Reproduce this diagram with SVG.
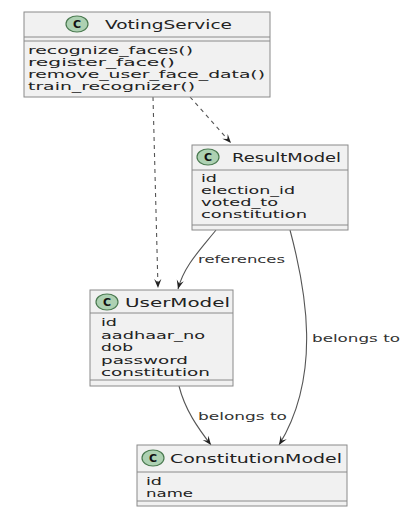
<svg xmlns="http://www.w3.org/2000/svg" width="412" height="513" viewBox="0 0 412 513">
<style>
.box{fill:#F1F1F1;stroke:#8a8a8a;stroke-width:1}
.sep{stroke:#8a8a8a;stroke-width:1}
.t{font-family:"DejaVu Sans",sans-serif;font-size:10.5px;fill:#222}
.h{font-family:"DejaVu Sans",sans-serif;font-size:11.5px;fill:#222}
.lbl{font-family:"DejaVu Sans",sans-serif;font-size:10.5px;fill:#333}
.circ{fill:#ADD1B2;stroke:#4a7a50;stroke-width:1.2}
.cl{font-family:"DejaVu Sans",sans-serif;font-size:11px;font-weight:bold;fill:#111}
.edge{fill:none;stroke:#555;stroke-width:1.1}
.dep{stroke-dasharray:4,4}
</style>
<defs>
<marker id="arr" viewBox="0 0 10 10" refX="10" refY="5" markerWidth="9" markerHeight="9" markerUnits="userSpaceOnUse" orient="auto">
<path d="M0,1 L10,5 L0,9 L4,5 Z" fill="#222"/>
</marker>
</defs>
<g id="connectors">
<path class="edge dep" d="M153,97 L158,288" marker-end="url(#arr)"/>
<path class="edge dep" d="M190,97 L231,143" marker-end="url(#arr)"/>
<path class="edge" d="M216,230 C200,250 184,266 178,289" marker-end="url(#arr)"/>
<text class="lbl" x="198" y="263" textLength="87" lengthAdjust="spacingAndGlyphs">references</text>
<path class="edge" d="M290,230 C306,290 322,375 279,445" marker-end="url(#arr)"/>
<text class="lbl" x="312" y="342" textLength="88" lengthAdjust="spacingAndGlyphs">belongs to</text>
<path class="edge" d="M179,386 C185,410 198,428 211,445" marker-end="url(#arr)"/>
<text class="lbl" x="198" y="420" textLength="89" lengthAdjust="spacingAndGlyphs">belongs to</text>
</g>
<g id="VotingService">
<rect class="box" x="24" y="12" width="246" height="85"/>
<ellipse class="circ" cx="77" cy="24" rx="11" ry="8"/>
<text class="cl" x="77" y="28" text-anchor="middle">C</text>
<text class="h" x="105" y="28.5" textLength="127" lengthAdjust="spacingAndGlyphs">VotingService</text>
<line class="sep" x1="24" y1="37" x2="270" y2="37"/>
<line class="sep" x1="24" y1="41" x2="270" y2="41"/>
<text class="t" x="28" y="54" textLength="165" lengthAdjust="spacingAndGlyphs">recognize_faces()</text>
<text class="t" x="28" y="66" textLength="147" lengthAdjust="spacingAndGlyphs">register_face()</text>
<text class="t" x="28" y="78" textLength="237" lengthAdjust="spacingAndGlyphs">remove_user_face_data()</text>
<text class="t" x="28" y="90" textLength="167" lengthAdjust="spacingAndGlyphs">train_recognizer()</text>
</g>
<g id="ResultModel">
<rect class="box" x="192" y="145" width="156" height="85"/>
<ellipse class="circ" cx="208" cy="157" rx="11" ry="8"/>
<text class="cl" x="208" y="161" text-anchor="middle">C</text>
<text class="h" x="232" y="161.5" textLength="109" lengthAdjust="spacingAndGlyphs">ResultModel</text>
<line class="sep" x1="192" y1="170" x2="348" y2="170"/>
<text class="t" x="201" y="182" textLength="16" lengthAdjust="spacingAndGlyphs">id</text>
<text class="t" x="201" y="194" textLength="94" lengthAdjust="spacingAndGlyphs">election_id</text>
<text class="t" x="201" y="206" textLength="77" lengthAdjust="spacingAndGlyphs">voted_to</text>
<text class="t" x="201" y="218" textLength="106" lengthAdjust="spacingAndGlyphs">constitution</text>
<line class="sep" x1="192" y1="225" x2="348" y2="225"/>
</g>
<g id="UserModel">
<rect class="box" x="90" y="290" width="143" height="96"/>
<ellipse class="circ" cx="107" cy="302" rx="11" ry="8"/>
<text class="cl" x="107" y="306" text-anchor="middle">C</text>
<text class="h" x="125" y="306.5" textLength="105" lengthAdjust="spacingAndGlyphs">UserModel</text>
<line class="sep" x1="90" y1="313" x2="233" y2="313"/>
<text class="t" x="101" y="326" textLength="16" lengthAdjust="spacingAndGlyphs">id</text>
<text class="t" x="101" y="338.5" textLength="104" lengthAdjust="spacingAndGlyphs">aadhaar_no</text>
<text class="t" x="101" y="351" textLength="32" lengthAdjust="spacingAndGlyphs">dob</text>
<text class="t" x="101" y="363.5" textLength="87" lengthAdjust="spacingAndGlyphs">password</text>
<text class="t" x="101" y="376" textLength="109" lengthAdjust="spacingAndGlyphs">constitution</text>
<line class="sep" x1="90" y1="380" x2="233" y2="380"/>
</g>
<g id="ConstitutionModel">
<rect class="box" x="137" y="445" width="210" height="61"/>
<ellipse class="circ" cx="153" cy="458" rx="11" ry="8"/>
<text class="cl" x="153" y="462" text-anchor="middle">C</text>
<text class="h" x="170" y="462.5" textLength="172" lengthAdjust="spacingAndGlyphs">ConstitutionModel</text>
<line class="sep" x1="137" y1="472" x2="347" y2="472"/>
<text class="t" x="146" y="485" textLength="16" lengthAdjust="spacingAndGlyphs">id</text>
<text class="t" x="146" y="497" textLength="47" lengthAdjust="spacingAndGlyphs">name</text>
<line class="sep" x1="137" y1="501" x2="347" y2="501"/>
</g>
</svg>
